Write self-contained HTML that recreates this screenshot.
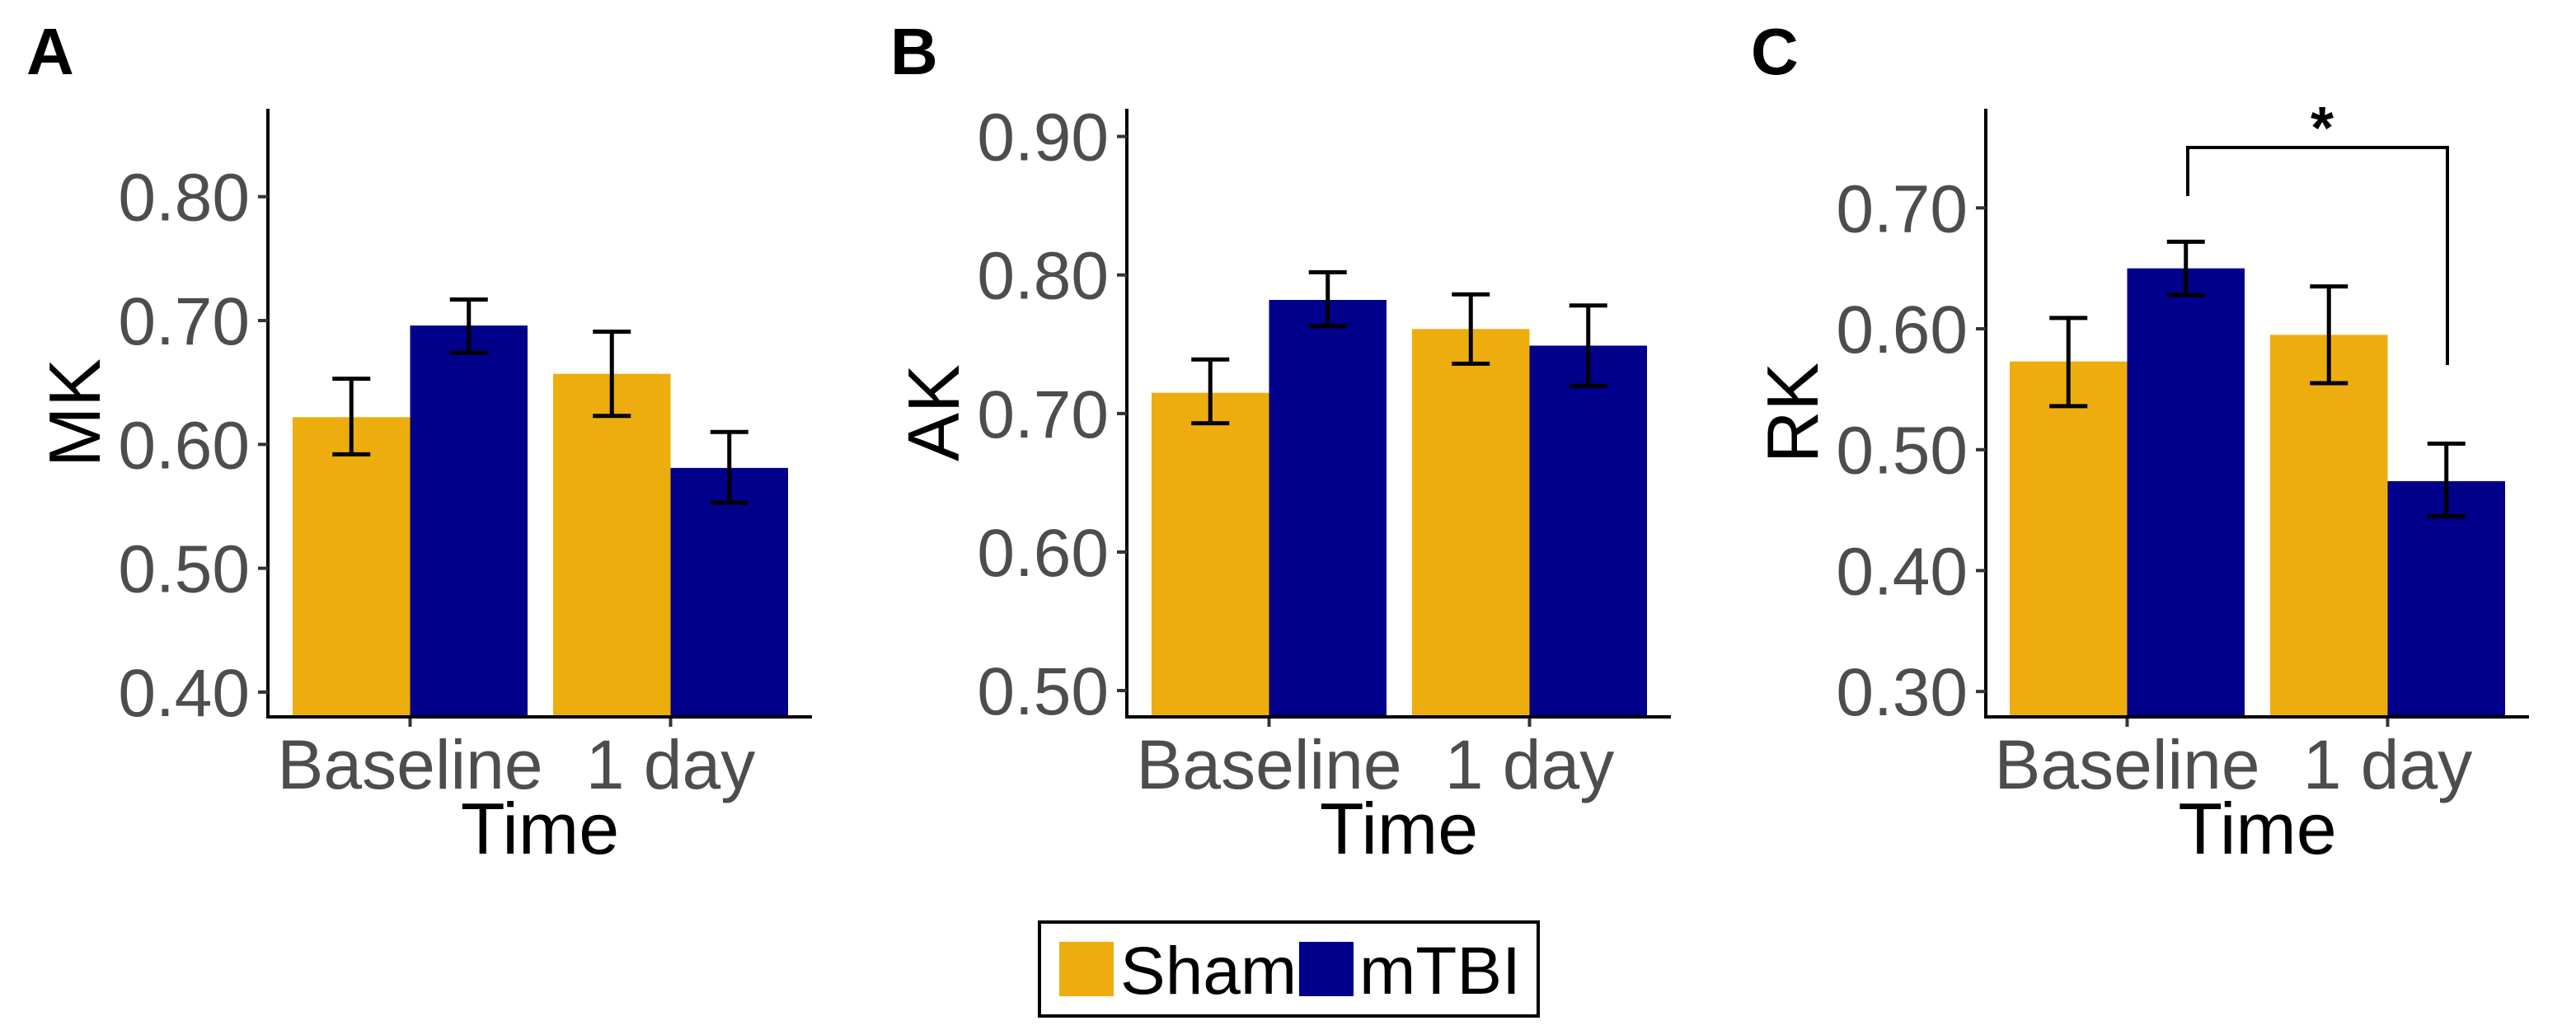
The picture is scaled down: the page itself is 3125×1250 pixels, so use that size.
<!DOCTYPE html>
<html><head><meta charset="utf-8"><style>
html,body{margin:0;padding:0;background:#fff;}
svg{display:block;font-family:"Liberation Sans",sans-serif;}
</style></head><body>
<svg id="chart" width="3125" height="1250" viewBox="0 0 3125 1250" xmlns="http://www.w3.org/2000/svg"></svg>
<script>
const groups = ["Sham","mTBI"];
const timepoints = ["Baseline","1 day"];
const panelLetters = ["A","B","C"];
const panelTitles = ["MK","AK","RK"];
// means [Baseline, 1 day] per group
const mkSham = [0.622, 0.657], mkTbi = [0.696, 0.581];
const mkShamLo = [0.592, 0.623], mkShamHi = [0.653, 0.691];
const mkTbiLo = [0.674, 0.553], mkTbiHi = [0.717, 0.610];
const akSham = [0.715, 0.761], akTbi = [0.782, 0.749];
const akShamLo = [0.693, 0.736], akShamHi = [0.739, 0.786];
const akTbiLo = [0.763, 0.720], akTbiHi = [0.802, 0.778];
const rkSham = [0.573, 0.595], rkTbi = [0.650, 0.474];
const rkShamLo = [0.536, 0.555], rkShamHi = [0.609, 0.635];
const rkTbiLo = [0.628, 0.445], rkTbiHi = [0.672, 0.505];
const mkTicks = [0.40,0.50,0.60,0.70,0.80];
const akTicks = [0.50,0.60,0.70,0.80,0.90];
const rkTicks = [0.30,0.40,0.50,0.60,0.70];
const mkDomain = [0.38, 0.871];
const akDomain = [0.481, 0.920];
const rkDomain = [0.279, 0.782];

const NS="http://www.w3.org/2000/svg";
const svg=document.getElementById('chart');
const colors=["#EEAD0E","#00008B"];
function mk(tag,attrs,parent){const e=document.createElementNS(NS,tag);for(const k in attrs)e.setAttribute(k,attrs[k]);(parent||svg).appendChild(e);return e;}

const layout=[
 {ax:325,axEnd:985,top:132,bottom:870,lx:32,barL:355},
 {ax:1367,axEnd:2027,top:132,bottom:870,lx:1080,barL:1397},
 {ax:2409,axEnd:3068,top:132,bottom:870,lx:2124,barL:2438}
];
const data=[
 {s:mkSham,t:mkTbi,sl:mkShamLo,sh:mkShamHi,tl:mkTbiLo,th:mkTbiHi,ticks:mkTicks,dom:mkDomain},
 {s:akSham,t:akTbi,sl:akShamLo,sh:akShamHi,tl:akTbiLo,th:akTbiHi,ticks:akTicks,dom:akDomain},
 {s:rkSham,t:rkTbi,sl:rkShamLo,sh:rkShamHi,tl:rkTbiLo,th:rkTbiHi,ticks:rkTicks,dom:rkDomain}
];
const barW=142.5;
data.forEach((d,pi)=>{
  const L=layout[pi];
  const g=mk('g',{});
  
  
  const y=v=>L.bottom-(v-d.dom[0])/(d.dom[1]-d.dom[0])*(L.bottom-L.top);
  const lt=mk('text',{x:L.lx,y:90,'font-size':80,'font-weight':'bold',fill:'#000'},g);lt.textContent=panelLetters[pi];
  
  
  for(let ti=0;ti<2;ti++){
    const x0=L.barL+ti*(2*barW+31);
    [[d.s,d.sl,d.sh],[d.t,d.tl,d.th]].forEach((arr,gi)=>{
      const bx=x0+gi*barW, v=arr[0][ti];
      const r=mk('rect',{x:bx,y:y(v),width:barW,height:L.bottom-y(v),fill:colors[gi]},g);
      
      
      const cx=bx+barW/2, lo=y(arr[1][ti]), hi=y(arr[2][ti]);
      const eb=mk('path',{d:`M${cx-23},${hi}H${cx+23}M${cx},${hi}V${lo}M${cx-23},${lo}H${cx+23}`,stroke:'#000','stroke-width':5,fill:'none'},g);
      
      
    });
    const tx=x0+barW;
    mk('line',{x1:tx,x2:tx,y1:L.bottom,y2:L.bottom+12,stroke:'#333','stroke-width':4},g);
    const xl=mk('text',{x:tx,y:957,'font-size':84,'text-anchor':'middle',fill:'#4d4d4d'},g);xl.textContent=timepoints[ti];
    
    
  }
  const ya=mk('path',{d:`M${L.ax},${L.top}V${L.bottom}H${L.axEnd}`,stroke:'#000','stroke-width':4,fill:'none'},g);
  
  
  d.ticks.forEach(t=>{
    mk('line',{x1:L.ax-12,x2:L.ax,y1:y(t),y2:y(t),stroke:'#333','stroke-width':4},g);
    const tl=mk('text',{x:L.ax-22,y:y(t)+29,'font-size':82,'text-anchor':'end',fill:'#4d4d4d'},g);tl.textContent=t.toFixed(2);
    
    
  });
  const yt=mk('text',{x:0,y:0,'font-size':88,'text-anchor':'middle',fill:'#000',transform:`translate(${L.ax-204},${(L.top+L.bottom)/2}) rotate(-90)`},g);yt.textContent=panelTitles[pi];
  
  
  const xt=mk('text',{x:(L.ax+L.axEnd)/2,y:1036,'font-size':88,'text-anchor':'middle',fill:'#000'},g);xt.textContent='Time';
  
  
});
const br=mk('path',{d:'M2654,238V179H2969V443',stroke:'#000','stroke-width':4,fill:'none'});


const st=mk('text',{x:2817,y:180,'font-size':72,'font-weight':'bold','text-anchor':'middle',fill:'#000'});st.textContent='*';


const lg=mk('g',{});


mk('rect',{x:1261,y:1119,width:605,height:114,fill:'#fff',stroke:'#000','stroke-width':4},lg);
[[1285,1359],[1576,1649]].forEach((p,i)=>{
  const sw=mk('rect',{x:p[0],y:1143,width:66,height:66,fill:colors[i]},lg);
  
  
  const t=mk('text',{x:p[1],y:1206,'font-size':82,fill:'#000'},lg);t.textContent=groups[i];
  
  
});
</script>
</body></html>
